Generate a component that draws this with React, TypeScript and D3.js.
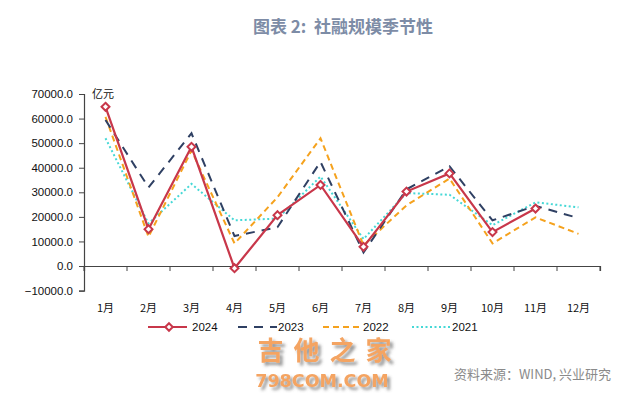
import React, { useEffect, useRef } from 'react';
import * as d3 from 'd3';

const months = ['1月', '2月', '3月', '4月', '5月', '6月', '7月', '8月', '9月', '10月', '11月', '12月'];
const yTicks = [-10000, 0, 10000, 20000, 30000, 40000, 50000, 60000, 70000];

const s2024 = [64800, 15000, 48500, -900, 20700, 33000, 7800, 30300, 37700, 13800, 23400, null];
const s2023 = [59400, 32000, 54000, 12200, 15800, 42400, 5500, 31200, 40600, 18600, 24500, 19500];
const s2022 = [60700, 11900, 47000, 9200, 28000, 52000, 8400, 24700, 35600, 9200, 19800, 13100];
const s2021 = [52000, 17300, 33400, 18600, 19300, 36400, 11000, 29700, 29000, 16600, 25900, 23900];

const series = [
  { name: '2024', values: s2024, color: '#C8374A', dash: '', width: 2.2, marker: true },
  { name: '2023', values: s2023, color: '#2F4063', dash: '9,7', width: 2, marker: false },
  { name: '2022', values: s2022, color: '#F5A21E', dash: '6,4', width: 2, marker: false },
  { name: '2021', values: s2021, color: '#45D8D6', dash: '2,2.5', width: 2, marker: false },
];

function App() {
  const ref = useRef<SVGSVGElement>(null);

  useEffect(() => {
    const svg = d3.select(ref.current);
    svg.selectAll('*').remove();

    const left = 84;
    const right = 600;
    const x = d3.scaleBand().domain(months).range([left, right]);
    const y = d3.scaleLinear().domain([-10000, 70000]).range([290.6, 94]);

    // drop shadow for the watermark
    const defs = svg.append('defs');
    defs.append('filter').attr('id', 'shadow')
      .attr('x', '-10%').attr('y', '-30%').attr('width', '130%').attr('height', '170%')
      .append('feDropShadow')
      .attr('dx', 3).attr('dy', 3)
      .attr('stdDeviation', 1.6)
      .attr('flood-color', '#555')
      .attr('flood-opacity', 0.6);

    // title
    svg.append('text')
      .attr('x', 343).attr('y', 33)
      .attr('text-anchor', 'middle')
      .attr('font-family', 'Noto Sans CJK SC')
      .attr('font-weight', 'bold')
      .attr('font-size', 17)
      .attr('fill', '#7D8CA6')
      .attr('xml:space', 'preserve')
      .text('图表 2:  社融规模季节性');

    // y axis
    const yAxis = svg.append('g')
      .attr('transform', `translate(${left},0)`)
      .call(d3.axisLeft(y).tickValues(yTicks).tickSize(5).tickFormat((d) => d3.format('.1f')(d as number)));
    yAxis.select('.domain').attr('stroke', '#444').attr('stroke-width', 1.2);
    yAxis.selectAll('.tick line').attr('stroke', '#444');
    yAxis.selectAll('.tick text')
      .attr('font-family', 'Liberation Sans, Arial')
      .attr('font-size', 11.5)
      .attr('fill', '#111')
      .attr('x', -11);

    // zero axis
    const xAxis = svg.append('g')
      .attr('transform', `translate(0,${y(0)})`)
      .call(d3.axisBottom(x).tickSize(5).tickSizeOuter(5).tickFormat(() => ''));
    xAxis.selectAll('.tick').remove();
    xAxis.select('.domain').attr('stroke', '#444').attr('stroke-width', 1.2);
    xAxis.selectAll('.bt')
      .data(d3.range(13))
      .enter()
      .append('line')
      .attr('x1', (i) => left + i * x.bandwidth())
      .attr('x2', (i) => left + i * x.bandwidth())
      .attr('y1', 0).attr('y2', 5)
      .attr('stroke', '#444');

    // month labels
    svg.selectAll('.mlab')
      .data(months)
      .enter()
      .append('text')
      .attr('x', (d) => (x(d) as number) + x.bandwidth() / 2)
      .attr('y', 312)
      .attr('text-anchor', 'middle')
      .attr('font-family', 'Noto Sans CJK SC')
      .attr('font-size', 11)
      .attr('fill', '#111')
      .text((d) => d);

    svg.append('text')
      .attr('x', 92).attr('y', 98)
      .attr('font-family', 'Noto Sans CJK SC')
      .attr('font-size', 11)
      .attr('fill', '#111')
      .text('亿元');

    const line = d3.line<number | null>()
      .defined((d) => d !== null)
      .x((_, i) => (x(months[i]) as number) + x.bandwidth() / 2)
      .y((d) => y(d as number));

    [...series].reverse().forEach((s) => {
      svg.append('path')
        .datum(s.values)
        .attr('fill', 'none')
        .attr('stroke', s.color)
        .attr('stroke-width', s.width)
        .attr('stroke-dasharray', s.dash)
        .attr('d', line);
      if (s.marker) {
        svg.selectAll('.mk')
          .data(s.values.map((v, i) => ({ v, i })).filter((d) => d.v !== null))
          .enter()
          .append('path')
          .attr('d', d3.symbol().type(d3.symbolDiamond2).size(40)())
          .attr('transform', (d) => `translate(${(x(months[d.i]) as number) + x.bandwidth() / 2},${y(d.v as number)})`)
          .attr('fill', '#fff')
          .attr('stroke', s.color)
          .attr('stroke-width', 2);
      }
    });

    // legend
    const legX = [148, 238, 323, 412];
    series.forEach((s, i) => {
      const g = svg.append('g').attr('transform', `translate(${legX[i]},327)`);
      g.append('line')
        .attr('x1', 0).attr('x2', 39).attr('y1', 0).attr('y2', 0)
        .attr('stroke', s.color)
        .attr('stroke-width', s.width)
        .attr('stroke-dasharray', s.dash);
      if (s.marker) {
        g.append('path')
          .attr('d', d3.symbol().type(d3.symbolDiamond2).size(36)())
          .attr('transform', 'translate(21,0)')
          .attr('fill', '#fff')
          .attr('stroke', s.color)
          .attr('stroke-width', 2);
      }
      g.append('text')
        .attr('x', i === 0 ? 44 : 40).attr('y', 4)
        .attr('font-family', 'Liberation Sans, Arial')
        .attr('font-size', 11.5)
        .attr('fill', '#111')
        .text(s.name);
    });

    // watermark
    svg.append('text')
      .attr('x', 329.5).attr('y', 360)
      .attr('text-anchor', 'middle')
      .attr('font-family', 'Noto Sans CJK SC')
      .attr('font-weight', 'bold')
      .attr('font-size', 26)
      .attr('letter-spacing', 10)
      .attr('fill', '#F4A462')
      .attr('filter', 'url(#shadow)')
      .text('吉他之家');
    svg.append('text')
      .attr('x', 322).attr('y', 387)
      .attr('text-anchor', 'middle')
      .attr('font-family', 'DejaVu Sans')
      .attr('font-weight', 'bold')
      .attr('font-size', 17.5)
      .attr('fill', '#F4A462')
      .attr('filter', 'url(#shadow)')
      .text('798COM.COM');

    svg.append('text')
      .attr('x', 611).attr('y', 379)
      .attr('text-anchor', 'end')
      .attr('font-family', 'Noto Sans CJK SC')
      .attr('font-size', 13)
      .attr('fill', '#8A8A8A')
      .text('资料来源：WIND, 兴业研究');
  }, []);

  return (
    <svg
      ref={ref}
      width={640}
      height={399}
      style={{ position: 'absolute', left: 0, top: 0, background: '#fff' }}
    />
  );
}

export default App;
